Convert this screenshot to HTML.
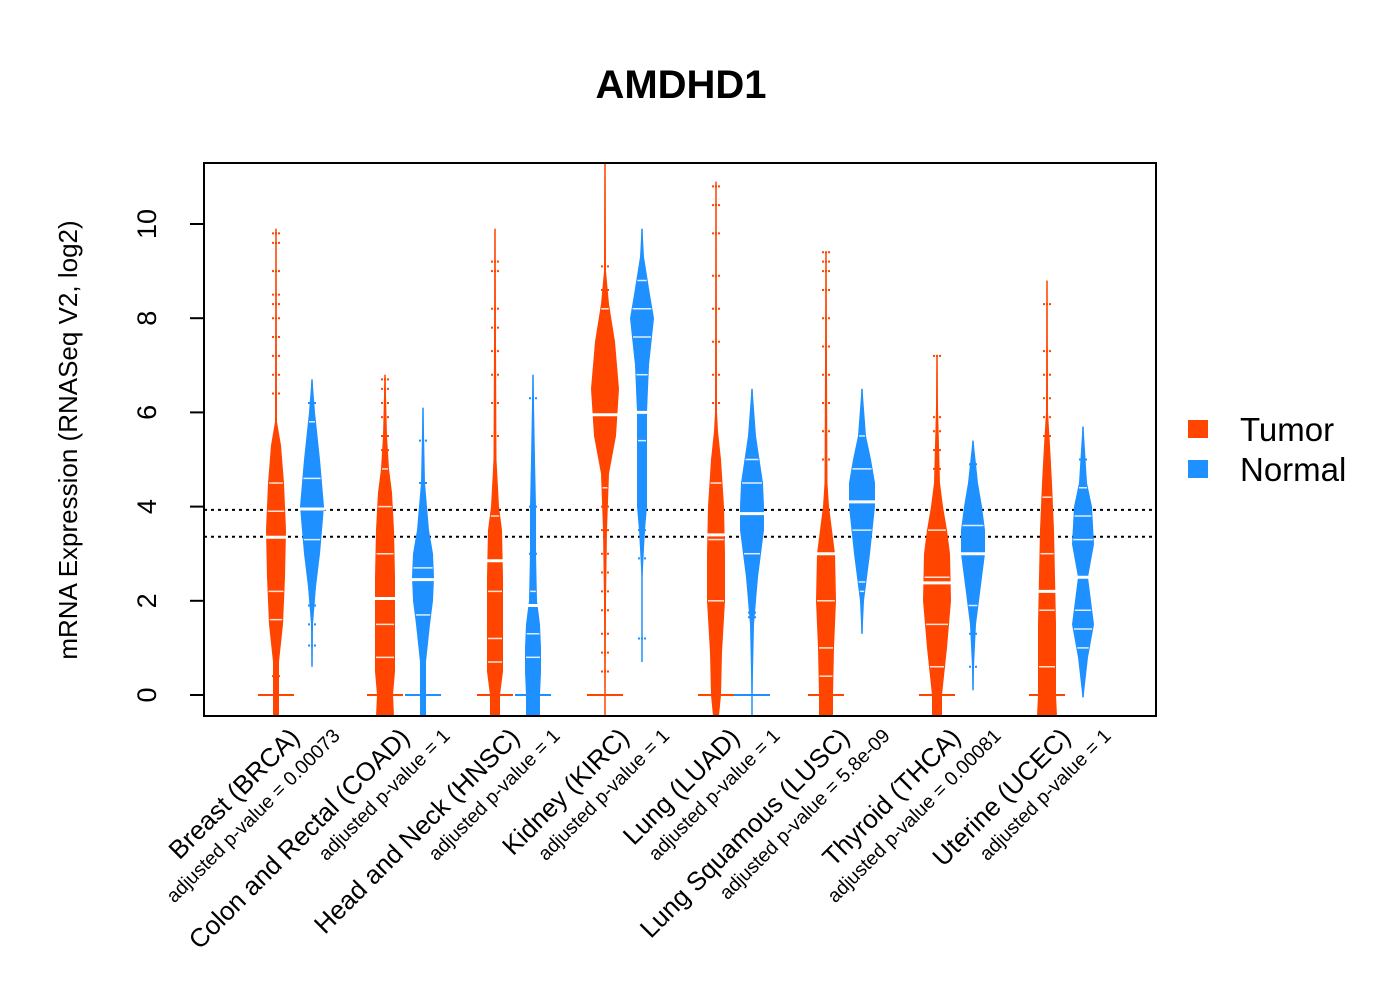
<!DOCTYPE html>
<html><head><meta charset="utf-8"><style>
body{margin:0;background:#fff;}
svg{display:block;font-family:"Liberation Sans",sans-serif;}
</style></head><body>
<svg id="chart" width="1400" height="1000" viewBox="0 0 1400 1000" xmlns="http://www.w3.org/2000/svg">
<text x="681" y="98" text-anchor="middle" font-size="40" font-weight="bold">AMDHD1</text>
<text transform="translate(77,440) rotate(-90)" text-anchor="middle" font-size="26">mRNA Expression (RNASeq V2, log2)</text>
<g id="plot"></g>
<rect x="204" y="163" width="952" height="553" fill="none" stroke="#000" stroke-width="2"/>
<g>
<rect x="1188" y="420" width="20" height="18" fill="#FF4500"/>
<text x="1240" y="441" font-size="33">Tumor</text>
<rect x="1188" y="460" width="20" height="18" fill="#1E90FF"/>
<text x="1240" y="481" font-size="33">Normal</text>
</g>
</svg>
<script>
const categories=["Breast (BRCA)","Colon and Rectal (COAD)","Head and Neck (HNSC)","Kidney (KIRC)","Lung (LUAD)","Lung Squamous (LUSC)","Thyroid (THCA)","Uterine (UCEC)"];
const pvalues=["0.00073","1","1","1","1","5.8e-09","0.00081","1"];
const yTicks=[0,2,4,6,8,10];
const refLines=[3.93,3.36];
const tumorV=[[-0.5,0,0.7,1.5,2.5,3.5,4.5,5.3,5.8,9.9],[-0.5,0,0.5,1.5,2.5,3.5,4.3,4.8,5.5,6.8],[-0.5,0,0.5,1.5,2.5,3.5,4,5,9.9],[-0.5,0,2,3.5,4.7,5.5,6.5,7.5,8.3,9,11.3],[-0.5,0,0.9,2,3,4,5,5.6,6,10.9],[-0.5,0,1,2,3,3.5,4,4.5,9.4],[-0.5,0,1,2,3,3.5,4,4.5,6.1,7.2],[-0.5,0,0.5,1.5,2.5,3.5,4.5,5.3,6,8.8]];
const tumorW=[[3,3,3,7,9,10,8,5,1,0.5],[9,8,10,10,10,9,7,4,2,0.5],[5,5,8,8,8,7,4,1.5,0.5],[0.5,0.5,1,2,4,11,14,10,4,1,0.5],[3,5,6,9,9,8,5,2,1,0.5],[7,7,8,10,9,6,3,1.5,0.5],[5,5,10,14,13,10,6,3,1,0.5],[10,9,9,9,8,7,5,3,1,0.5]];
const normalV=[[0.6,1.5,2.3,3,4,5,6,6.7],[-0.5,0,0.7,1.5,2,2.5,3,3.5,4.5,6.1],[-0.5,0,0.5,1,1.5,2,3,4,5,6.8],[0.7,1.5,2.5,3.5,4,5,6,7,8,8.5,9.3,9.9],[-0.5,0,1.5,2.5,3.5,4,4.5,5.5,6.5],[1.3,2,3,4,4.5,5,5.5,6.5],[0.1,0.6,1.5,2,3,3.5,4,4.5,5.4],[-0.05,0.8,1.5,2,2.5,3.2,4,4.5,5.2,5.7]];
const normalW=[[0.5,1,4,8,12,8,3,0.5],[3,3,3,7,10,11,10,6,2,0.5],[7,7,8,8,7,4,3,3,2,0.5],[0.5,0.5,0.5,3,5,5,5,7,12,8,2,0.5],[0.5,0.5,2,6,12,12,11,4,0.5],[0.5,2,8,13,13,9,4,0.5],[0.5,1,3,6,12,12,9,5,0.5],[0.5,5,11,8,5,11,9,4,2,0.5]];
const tumorMedian=[3.35,2.05,2.85,5.95,3.4,3.0,2.38,2.2];
const normalMedian=[3.95,2.45,1.9,6.0,3.85,4.1,3.0,2.5];
const normalHasZero=[false,true,true,false,true,false,false,false];
const tumorPoints=[[6.4,6.8,7.2,7.6,8.0,8.3,8.5,9.0,9.6,9.8,4.5,3.9,2.2,1.6,0.4],[4.8,5.2,5.5,5.9,6.2,6.5,6.7,4.0,3.0,1.5,0.8],[5.5,6.2,6.8,7.3,7.8,8.2,9.0,9.2,3.8,2.2,1.2,0.7],[9.1,8.6,8.2,4.4,4.0,3.5,3.0,2.6,2.2,1.8,1.3,0.9,0.5],[6.2,6.8,7.5,8.2,8.9,9.8,10.4,10.8,4.5,3.3,2.0],[5.0,5.6,6.2,6.8,7.4,8.0,8.6,9.0,9.2,9.4,2.0,1.0,0.4],[4.8,5.2,5.6,5.9,7.2,3.5,2.5,1.5,0.6],[5.5,5.9,6.3,6.8,7.3,8.3,4.2,3.0,1.8,0.6]];
const normalPoints=[[6.2,5.8,1.9,1.5,1.05,3.3,4.6],[5.4,4.5,2.7,1.7],[6.3,4.0,3.0,2.2,1.3,0.8],[1.2,2.9,3.5,5.4,6.8,7.6,8.2,8.8],[1.65,1.75,3.0,4.5,5.0],[2.2,2.4,5.5,4.8,3.5],[0.6,1.3,1.9,4.9,3.6],[5.0,4.4,3.8,3.3,1.8,1.4,1.0]];
const tumorX=[276,385,495,605,716,826,937,1047];
const normalX=[312,423,533,642,752,862,973,1083];
const NS="http://www.w3.org/2000/svg";
const svg=document.getElementById('chart');
const plot=document.getElementById('plot');
const y=v=>695-47.1*v;
const clipY=v=>Math.min(716,Math.max(163,y(v)));
function mk(tag,attrs,parent){const e=document.createElementNS(NS,tag);for(const k in attrs)e.setAttribute(k,attrs[k]);(parent||plot).appendChild(e);return e;}
yTicks.forEach(t=>{
  const l=mk('line',{x1:190,x2:204,y1:y(t),y2:y(t),stroke:'#000','stroke-width':2},svg);
  
  
  const tx=mk('text',{transform:`translate(156,${y(t)}) rotate(-90)`,'text-anchor':'middle','font-size':27},svg);
  tx.textContent=t;
  
  
});
const ax=mk('line',{x1:204,x2:204,y1:y(0),y2:y(10),stroke:'#000','stroke-width':2},svg);


refLines.forEach((r,i)=>{
  const l=mk('line',{x1:204,x2:1156,y1:y(r),y2:y(r),stroke:'#000','stroke-width':2,'stroke-dasharray':'3,4'});
  
  
});
function bean(cx,vs,ws,med,pts,col,name,zero){
  const g=mk('g',{});
  
  
  let right=vs.map((v,i)=>`${cx+ws[i]},${clipY(v)}`);
  let left=vs.map((v,i)=>`${cx-ws[i]},${clipY(v)}`).reverse();
  mk('polygon',{points:right.concat(left).join(' '),fill:col},g);
  const top=vs[vs.length-1],bot=vs[0];
  mk('line',{x1:cx,x2:cx,y1:clipY(top),y2:clipY(bot),stroke:col,'stroke-width':1.5},g);
  function wAt(v){if(v<vs[0]||v>top)return 0;for(let i=0;i<vs.length-1;i++){if(v>=vs[i]&&v<=vs[i+1]){const f=(v-vs[i])/(vs[i+1]-vs[i]);return ws[i]+f*(ws[i+1]-ws[i]);}}return 0;}
  pts.forEach(p=>{const w=wAt(p);
    if(w>3) mk('line',{x1:cx-w+1,x2:cx+w-1,y1:y(p),y2:y(p),stroke:'#fff','stroke-width':1.5,opacity:0.85},g);
    else mk('line',{x1:cx-4,x2:cx+4,y1:y(p),y2:y(p),stroke:col,'stroke-width':2,'stroke-dasharray':'2,1'},g);
  });
  const mw=Math.max(wAt(med),8);
  mk('line',{x1:cx-mw-2,x2:cx+mw+2,y1:y(med),y2:y(med),stroke:'#fff','stroke-width':3},g);
  if(zero) mk('line',{x1:cx-18,x2:cx+18,y1:y(0),y2:y(0),stroke:col,'stroke-width':2},g);
}
categories.forEach((c,i)=>{
  bean(tumorX[i],tumorV[i],tumorW[i],tumorMedian[i],tumorPoints[i],'#FF4500','bean-tumor-'+i,true);
  bean(normalX[i],normalV[i],normalW[i],normalMedian[i],normalPoints[i],'#1E90FF','bean-normal-'+i,normalHasZero[i]);
  const cx=(tumorX[i]+normalX[i])/2;
  const t=mk('text',{transform:`translate(${cx+7},${739}) rotate(-45)`,'text-anchor':'end','font-size':26},svg);
  t.textContent=c;
  
  
  const p=mk('text',{transform:`translate(${cx+47},${737}) rotate(-45)`,'text-anchor':'end','font-size':19.5},svg);
  p.textContent='adjusted p-value = '+pvalues[i];
  
  
});
</script>
</body></html>
